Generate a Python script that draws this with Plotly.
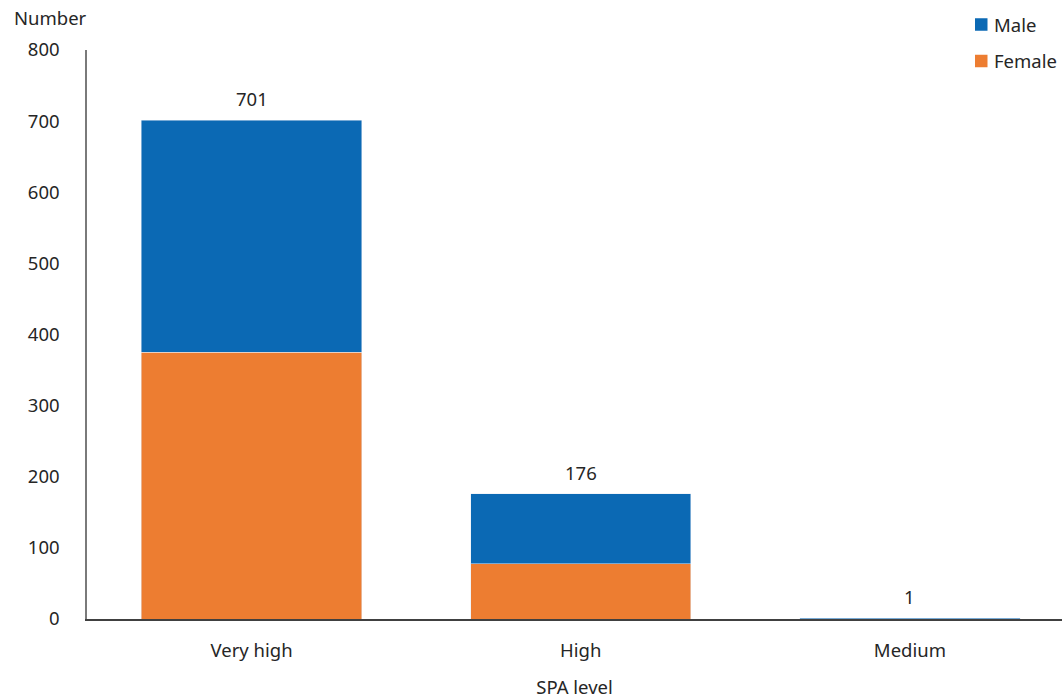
import plotly.graph_objects as go

# SPA level categories and counts by sex
categories = ["Very high", "High", "Medium"]
female = [375, 78, 0]
male = [326, 98, 1]
totals = [f + m for f, m in zip(female, male)]
y_ticks = [0, 100, 200, 300, 400, 500, 600, 700, 800]

BLUE = "#0B69B4"
ORANGE = "#ED7D31"
TEXT = "#262626"
FONT = "Noto Sans"
FS = 18.5

W, H = 1062, 699
ML, MR, MT, MB = 87, 0, 50, 80
PW, PH = W - ML - MR, H - MT - MB


def px_x(px):
    return (px - ML) / PW


def px_y(py):
    return (H - MB - py) / PH


fig = go.Figure()
fig.add_trace(go.Bar(x=categories, y=female, name="Female", marker_color=ORANGE,
                     width=0.669, showlegend=False))
fig.add_trace(go.Bar(x=categories, y=male, name="Male", marker_color=BLUE,
                     width=0.669, showlegend=False))

# Total labels above each stack
for c, t in zip(categories, totals):
    fig.add_annotation(x=c, y=t, text=str(t), showarrow=False, yanchor="bottom",
                       yshift=7, font=dict(family=FONT, size=FS, color=TEXT))

# Axis title for the value axis, placed above the axis
fig.add_annotation(xref="paper", yref="paper", x=px_x(12), y=px_y(18), xanchor="left",
                   yanchor="middle", text="Number", showarrow=False,
                   font=dict(family=FONT, size=FS, color=TEXT))

# Legend: coloured squares with series names (Male above Female)
for name, color, cy in [("Male", BLUE, 24.5), ("Female", ORANGE, 61)]:
    fig.add_shape(type="rect", xref="paper", yref="paper",
                  x0=px_x(975), x1=px_x(987.5), y0=px_y(cy + 6.25), y1=px_y(cy - 6.25),
                  fillcolor=color, line_width=0)
    fig.add_annotation(xref="paper", yref="paper", x=px_x(992), y=px_y(cy),
                       xanchor="left", yanchor="middle", text=name, showarrow=False,
                       font=dict(family=FONT, size=FS, color=TEXT))

fig.update_layout(
    width=W, height=H,
    margin=dict(l=ML, r=MR, t=MT, b=MB),
    barmode="stack",
    showlegend=False,
    plot_bgcolor="white", paper_bgcolor="white",
    font=dict(family=FONT, size=FS, color=TEXT),
    xaxis=dict(range=[-0.5, 2.462], showline=True, linecolor="#404040", linewidth=1.5,
               ticks="", ticklabelstandoff=14, showgrid=False, automargin=False,
               title=dict(text="SPA level", standoff=20, font=dict(family=FONT, size=FS))),
    yaxis=dict(range=[0, 800], tickvals=y_ticks, showline=True, linecolor="#7a7a7a",
               linewidth=1.5, ticks="", ticklabelstandoff=22, showgrid=False,
               zeroline=False, automargin=False),
)

fig.write_html("out.html")
